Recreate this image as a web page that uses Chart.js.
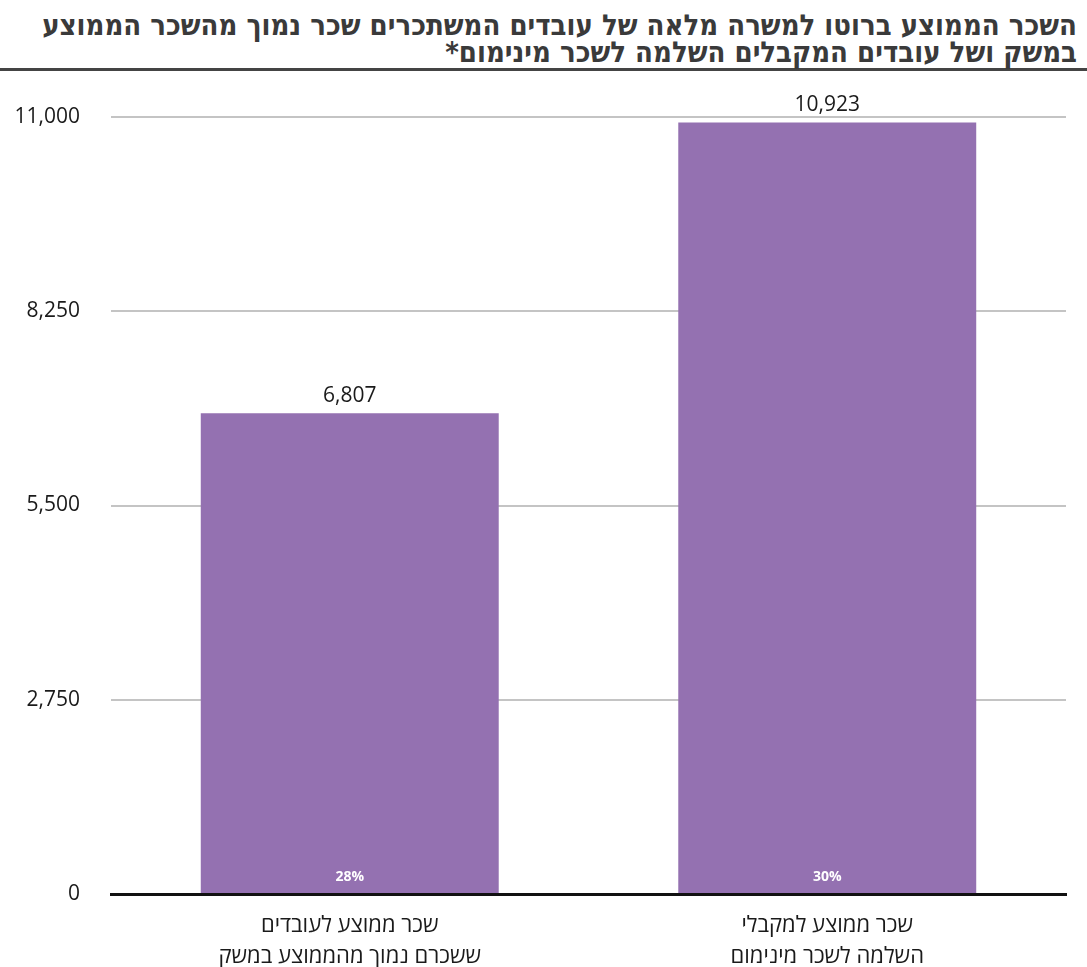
<!DOCTYPE html>
<html lang="he">
<head>
<meta charset="utf-8">
<script src="https://cdn.jsdelivr.net/npm/chart.js@4.4.1/dist/chart.umd.min.js"></script>
<style>
html,body{margin:0;padding:0;background:#fff;width:1087px;height:967px;overflow:hidden;}
#title{direction:rtl;text-align:right;font-family:"Liberation Sans Narrow","DejaVu Sans Condensed",sans-serif;font-weight:bold;font-size:29px;line-height:27px;color:#3a3a3a;padding:12px 10px 0 0;height:56px;border-bottom:3px solid #444;box-sizing:content-box;}
#wrap{position:relative;width:1087px;height:896px;}
</style>
</head>
<body>
<div id="title">השכר הממוצע ברוטו למשרה מלאה של עובדים המשתכרים שכר נמוך מהשכר הממוצע<br>במשק ושל עובדים המקבלים השלמה לשכר מינימום*</div>
<div id="wrap"><canvas id="chart"></canvas></div>
<script>
const categories=[["שכר ממוצע לעובדים","ששכרם נמוך מהממוצע במשק"],["שכר ממוצע למקבלי","השלמה לשכר מינימום"]];
const wages=[6807,10923];
const shares=["28%","30%"];
const yTicks=[0,2750,5500,8250,11000];

const FONT='"Open Sans","DejaVu Sans",sans-serif';
const labelPlugin={
    id:'barLabels',
    afterDatasetsDraw(chart){
        const ctx=chart.ctx;
        const meta=chart.getDatasetMeta(0);
        ctx.save();
        ctx.textAlign='center';
        meta.data.forEach((bar,i)=>{
            ctx.fillStyle='#1a1a1a';
            ctx.font='21px '+FONT;
            ctx.textBaseline='bottom';
            ctx.fillText(wages[i].toLocaleString('en-US'),bar.x,bar.y-7);
            ctx.fillStyle='#ffffff';
            ctx.font='bold 14px '+FONT;
            ctx.textBaseline='middle';
            ctx.fillText(shares[i],bar.x,chart.scales.y.getPixelForValue(0)-17);
        });
        ctx.restore();
    }
};
new Chart(document.getElementById('chart'),{
    type:'bar',
    data:{labels:categories,datasets:[{data:wages,backgroundColor:'#9471b1',categoryPercentage:0.624,barPercentage:1}]},
    options:{
        responsive:true,maintainAspectRatio:false,animation:false,
        layout:{padding:{top:46,left:0,right:21,bottom:0}},
        plugins:{legend:{display:false},tooltip:{enabled:false}},
        scales:{
            x:{grid:{display:false},border:{display:true,color:'#111',width:3},
               afterFit(s){s.height=73;},
               ticks:{color:'#1a1a1a',font:{family:FONT,size:22,lineHeight:1.38},padding:9,maxRotation:0}},
            y:{min:0,max:11000,afterBuildTicks(ax){ax.ticks=yTicks.map(v=>({value:v}));},
               afterFit(s){s.width=111;},
               grid:{color:'#c4c4c4',lineWidth:2,drawTicks:false},border:{display:false},
               ticks:{color:'#1a1a1a',font:{family:FONT,size:21},padding:31,
                      callback:v=>v.toLocaleString('en-US')}}
        }
    },
    plugins:[labelPlugin]
});
</script>
</body>
</html>
